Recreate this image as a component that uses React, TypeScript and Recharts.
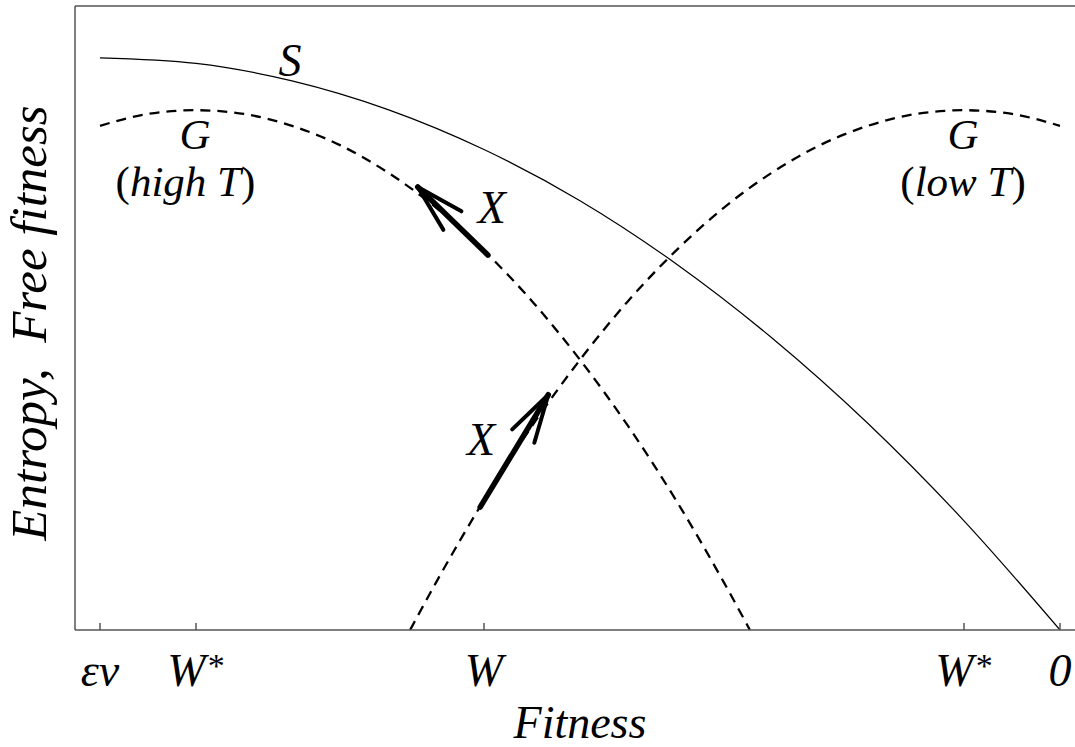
import React from "react";
import {
  LineChart,
  Line,
  XAxis,
  YAxis,
  ReferenceLine,
  ReferenceDot,
} from "recharts";

// fitness axis runs from εν (0) to 0 (1); the y scale is arbitrary (0..1)
const tickValues = [0, 0.1, 0.4, 0.9, 1.0];
const tickLabels = ["εν", "W*", "W", "W*", "0"];

const sX = [0, 0.1, 0.2, 0.3, 0.4, 0.5, 0.6, 0.7, 0.8, 0.9, 1.0];
const sY = [0.917, 0.908, 0.88, 0.834, 0.77, 0.688, 0.587, 0.468, 0.331, 0.175, 0];

const gHighX = [0, 0.05, 0.1, 0.15, 0.2, 0.25, 0.3, 0.35, 0.4, 0.45, 0.5, 0.55, 0.6, 0.65, 0.677];
const gHighY = [0.808, 0.827, 0.833, 0.827, 0.808, 0.777, 0.733, 0.677, 0.608, 0.527, 0.433, 0.327, 0.208, 0.076, 0];

const gLowX = [0.323, 0.35, 0.4, 0.45, 0.5, 0.55, 0.6, 0.65, 0.7, 0.75, 0.8, 0.85, 0.9, 0.95, 1.0];
const gLowY = [0, 0.076, 0.208, 0.327, 0.433, 0.527, 0.608, 0.677, 0.733, 0.777, 0.808, 0.827, 0.833, 0.827, 0.808];

// arrows: [tailX, tailY, tipX, tipY]
const arrows = [
  [0.404, 0.601, 0.331, 0.71],
  [0.396, 0.197, 0.467, 0.377],
];

// text labels placed at data coords (baseline centre)
const labelText = ["S", "G", "(high T)", "G", "(low T)", "X", "X"];
const labelX = [0.198, 0.099, 0.089, 0.899, 0.899, 0.408, 0.397];
const labelY = [0.888, 0.771, 0.696, 0.771, 0.696, 0.652, 0.28];
const labelSize = [46, 43, 43, 43, 43, 46, 46];

const FONT = "'Liberation Serif', 'Times New Roman', serif";
const FS = 46;
const AXIS = "#555";

const toPoints = (xs: number[], ys: number[]) => xs.map((x, i) => ({ x, y: ys[i] }));

const sData = toPoints(sX, sY);
const gHighData = toPoints(gHighX, gHighY);
const gLowData = toPoints(gLowX, gLowY);

function renderLine(text: string) {
  // parentheses upright, the rest italic
  const m = text.match(/^\((.*)\)$/);
  if (m) {
    return (
      <>
        <tspan fontStyle="normal">(</tspan>
        <tspan fontStyle="italic">{m[1]}</tspan>
        <tspan fontStyle="normal">)</tspan>
      </>
    );
  }
  return text;
}

function FitnessTick(props: any) {
  const { x, y, index } = props;
  const label = tickLabels[index] ?? "";
  const star = label.endsWith("*");
  return (
    <g>
      <line x1={x} x2={x} y1={y} y2={y - 7} stroke={AXIS} strokeWidth={1.5} />
      <text
        x={x}
        y={y + 56}
        textAnchor="middle"
        fontFamily={FONT}
        fontSize={FS}
        fontStyle="italic"
        fill="#000"
      >
        {star ? (
          <>
            <tspan>{label.slice(0, -1)}</tspan>
            <tspan fontStyle="normal" fontSize={34} dx={2} dy={-9}>
              *
            </tspan>
          </>
        ) : (
          label
        )}
      </text>
    </g>
  );
}

function Arrow(props: any) {
  const { x1, y1, x2, y2 } = props;
  const ang = Math.atan2(y1 - y2, x1 - x2);
  const len = 50;
  const spread = (15 * Math.PI) / 180;
  const w1x = x2 + len * Math.cos(ang + spread);
  const w1y = y2 + len * Math.sin(ang + spread);
  const w2x = x2 + len * Math.cos(ang - spread);
  const w2y = y2 + len * Math.sin(ang - spread);
  return (
    <g>
      <line x1={x1} y1={y1} x2={x2} y2={y2} stroke="#000" strokeWidth={5.5} strokeLinecap="round" />
      <path
        d={`M${w1x},${w1y} L${x2},${y2} L${w2x},${w2y}`}
        fill="none"
        stroke="#000"
        strokeWidth={4}
        strokeLinecap="round"
        strokeLinejoin="round"
      />
    </g>
  );
}

export default function App() {
  return (
    <div
      style={{
        position: "absolute",
        left: 0,
        top: 0,
        width: 1075,
        height: 747,
        overflow: "hidden",
        background: "#fff",
      }}
    >
      <LineChart
        width={1100}
        height={747}
        margin={{ top: 6, right: 25, left: 0, bottom: 57 }}
      >
        <XAxis
          dataKey="x"
          type="number"
          domain={[-25 / 960, 975 / 960]}
          allowDataOverflow
          ticks={tickValues}
          tick={<FitnessTick />}
          tickLine={false}
          tickSize={0}
          tickMargin={0}
          height={60}
          interval={0}
          axisLine={{ stroke: AXIS, strokeWidth: 1.5 }}
          label={{
            content: ({ viewBox }: any) => (
              <text
                x={viewBox.x + viewBox.width / 2 + 5}
                y={viewBox.y + 108}
                textAnchor="middle"
                fontFamily={FONT}
                fontSize={FS}
                fontStyle="italic"
                fill="#000"
              >
                Fitness
              </text>
            ),
          }}
        />
        <YAxis
          type="number"
          domain={[0, 1]}
          allowDataOverflow
          tick={false}
          tickLine={false}
          width={75}
          axisLine={{ stroke: AXIS, strokeWidth: 1.5 }}
          label={{
            content: ({ viewBox }: any) => {
              const cx = viewBox.x + 46;
              const cy = viewBox.y + viewBox.height / 2 + 5;
              return (
                <text
                  x={cx}
                  y={cy}
                  transform={`rotate(-90 ${cx} ${cy})`}
                  textAnchor="middle"
                  fontFamily={FONT}
                  fontSize={51}
                  fontStyle="italic"
                  fill="#000"
                  style={{ whiteSpace: "pre" }}
                >
                  {"Entropy,  Free fitness"}
                </text>
              );
            },
          }}
        />

        <ReferenceLine y={1} stroke={AXIS} strokeWidth={1.5} />

        <Line
          data={sData}
          dataKey="y"
          type="monotone"
          stroke="#000"
          strokeWidth={1.2}
          dot={false}
          isAnimationActive={false}
        />
        <Line
          data={gHighData}
          dataKey="y"
          type="monotone"
          stroke="#000"
          strokeWidth={2.3}
          strokeDasharray="10 7"
          dot={false}
          isAnimationActive={false}
        />
        <Line
          data={gLowData}
          dataKey="y"
          type="monotone"
          stroke="#000"
          strokeWidth={2.3}
          strokeDasharray="10 7"
          dot={false}
          isAnimationActive={false}
        />

        {arrows.map((a, i) => (
          <ReferenceLine
            key={`arrow-${i}`}
            segment={[
              { x: a[0], y: a[1] },
              { x: a[2], y: a[3] },
            ]}
            shape={<Arrow />}
          />
        ))}

        {labelText.map((t, i) => (
          <ReferenceDot
            key={`lbl-${i}`}
            x={labelX[i]}
            y={labelY[i]}
            r={0}
            shape={(p: any) => (
              <text
                x={p.cx}
                y={p.cy}
                textAnchor="middle"
                fontFamily={FONT}
                fontSize={labelSize[i]}
                fontStyle="italic"
                fill="#000"
              >
                {renderLine(t)}
              </text>
            )}
          />
        ))}
      </LineChart>
    </div>
  );
}
